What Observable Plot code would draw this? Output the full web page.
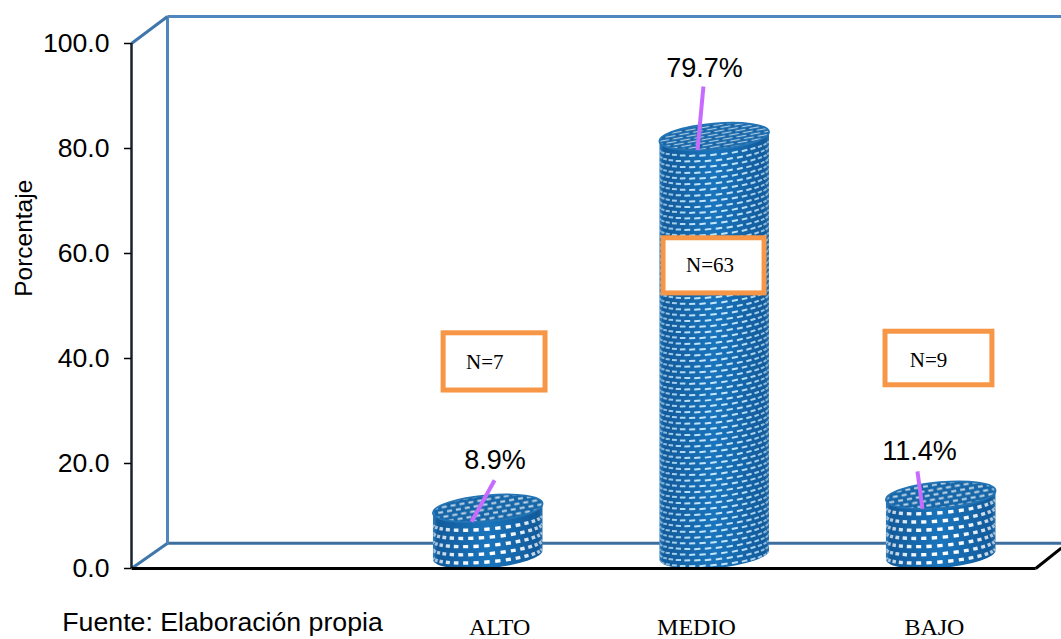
<!DOCTYPE html>
<html lang="es">
<head>
<meta charset="utf-8">
<script src="https://cdn.jsdelivr.net/npm/d3@7"></script>
<script src="https://cdn.jsdelivr.net/npm/@observablehq/plot@0.6"></script>
<style>
  html, body { margin: 0; padding: 0; background: #fff; }
  svg { display: block; }
</style>
</head>
<body>
<div id="chart"></div>
<script>
// Nivel por categoría: porcentaje y número de casos
const categories = ["ALTO", "MEDIO", "BAJO"];
const percentages = [8.9, 79.7, 11.4];
const counts = [7, 63, 9];
const slots = [1, 2, 3];            // the slot 0 of the category axis stays empty
const yTicks = [0, 20, 40, 60, 80, 100];

// Annotation anchors, in scale units
const labelX = [1.03, 1.955, 2.904];
const labelY = [20.6, 95.2, 22.3];
const leaderTopX = [1.028, 1.95, 2.895];
const leaderTopY = [16.8, 91.8, 18.5];
const leaderEndX = [0.926, 1.924, 2.917];
const boxX1 = [0.803, 1.774, 2.754];
const boxX2 = [1.253, 2.22, 3.226];
const boxY1 = [33.9, 52.4, 34.9];
const boxY2 = [44.8, 62.9, 45.1];
const noteX = [0.985, 1.979, 2.944];
const noteY = [39.2, 57.7, 39.6];
const categoryLabelX = [1.05, 1.919, 2.97];

const rows = categories.map((name, i) => ({
  name, slot: slots[i], pct: percentages[i], n: counts[i],
  labelX: labelX[i], labelY: labelY[i],
  topX: leaderTopX[i], topY: leaderTopY[i], endX: leaderEndX[i],
  x1: boxX1[i], x2: boxX2[i], y1: boxY1[i], y2: boxY2[i],
  noteX: noteX[i], noteY: noteY[i], catX: categoryLabelX[i]
}));

// Extent of the box drawn behind the columns
const xMin = -0.575, xMax = 3.531;
const depthX = 0.159, depthY = 4.8;
const backTop = 105.15;
const floorEnd = 3.417;

const sans = "'Liberation Sans', Arial, sans-serif";
const serif = "'Liberation Serif', 'Times New Roman', serif";
const seg = (x1, y1, x2, y2) => ({x1, y1, x2, y2});

// Adds a staggered dash texture for a cylinder lid
function lidPattern(defs, id, w, h, dashW, dashH, color) {
  const p = defs.append("pattern").attr("id", id)
    .attr("patternUnits", "userSpaceOnUse").attr("width", w).attr("height", h)
    .attr("patternTransform", "rotate(-5)");
  p.append("rect").attr("width", w).attr("height", h).attr("fill", "#1766a8");
  [[0.5, h / 4 - dashH / 2], [w / 2 + 0.5, 3 * h / 4 - dashH / 2], [-w / 2 + 0.5, 3 * h / 4 - dashH / 2]]
    .forEach(([x, y]) => p.append("rect").attr("x", x).attr("y", y)
      .attr("width", dashW).attr("height", dashH).attr("fill", color));
}

// Patterned cylinder: the side is wrapped with rows of small dashes that
// foreshorten towards the edges, the lid is a tilted ellipse.
function cylinders(index, scales, values) {
  const g = d3.create("svg:g");
  const defs = g.append("defs");
  const deg = 5, tilt = deg * Math.PI / 180;
  const rx = scales.x(1.2428) - scales.x(1), ry = 13;
  const cosT = Math.cos(tilt), sinT = Math.sin(tilt);

  const side = defs.append("linearGradient").attr("id", "cyl-side");
  [[0, "#2f7dbd"], [0.04, "#125a9a"], [0.5, "#1a75bd"], [0.96, "#125a9a"], [1, "#2a70ab"]]
    .forEach(([o, c]) => side.append("stop").attr("offset", o).attr("stop-color", c));

  lidPattern(defs, "lid-wide", 9, 9.6, 5, 2, "#c3d8e8");
  lidPattern(defs, "lid-fine", 14, 6, 10, 1.2, "#a9cbe4");

  const pt = (cx, cy, phi, k = 1) => {
    const ex = rx * Math.cos(phi), ey = ry * k * Math.sin(phi);
    return [cx + ex * cosT + ey * sinT, cy - ex * sinT + ey * cosT];
  };
  // Direction of a row of dashes at angle phi, in degrees
  const tangent = (phi, k) => {
    const ex = -rx * Math.sin(phi), ey = ry * k * Math.cos(phi);
    const dx = ex * cosT + ey * sinT, dy = -ex * sinT + ey * cosT;
    return Math.atan2(-dy, -dx) * 180 / Math.PI;
  };

  for (const i of index) {
    const cx = values.x[i], front = values.y[i], base = scales.y(0);
    const cyTop = front - ry, cyBase = base - ry;
    const tall = base - front > 200;
    const [rTx, rTy] = pt(cx, cyTop, 0), [lTx, lTy] = pt(cx, cyTop, Math.PI);
    const [rBx, rBy] = pt(cx, cyBase, 0), [lBx, lBy] = pt(cx, cyBase, Math.PI);
    const outline = `M${lTx},${lTy}A${rx},${ry} -${deg} 0 0 ${rTx},${rTy}L${rBx},${rBy}A${rx},${ry} -${deg} 0 1 ${lBx},${lBy}Z`;

    g.append("path").attr("d", outline).attr("fill", "url(#cyl-side)");
    defs.append("clipPath").attr("id", `cyl-clip-${i}`).append("path").attr("d", outline);
    const dashes = g.append("g").attr("clip-path", `url(#cyl-clip-${i})`);

    const rowGap = tall ? 5.7 : 8.2, step = 0.2;
    const dashW = tall ? 6.5 : 5.4, dashH = tall ? 2 : 3.4;
    const bend = tall ? 0.75 : 0.7;
    const lean = tall ? -3 : 0;
    for (let r = 0; ; r++) {
      const cy = cyBase + 6 - r * rowGap;
      if (cy < cyTop + 7) break;
      const shift = r % 2 ? step / 2 : 0;
      for (let phi = step / 2 + shift; phi < Math.PI; phi += step) {
        const [px, py] = pt(cx, cy, phi, bend);
        const sp = Math.sin(phi);
        const w = Math.max(1.2, dashW * (0.25 + 0.75 * sp));
        dashes.append("rect")
          .attr("x", px - w / 2).attr("y", py - dashH / 2)
          .attr("width", w).attr("height", dashH)
          .attr("transform", `rotate(${tangent(phi, bend) + lean} ${px} ${py})`)
          .attr("fill", tall ? "#c4e7fb" : "#ffffff")
          .attr("fill-opacity", 0.45 + 0.55 * sp);
      }
    }

    g.append("ellipse")
      .attr("cx", cx).attr("cy", cyTop).attr("rx", rx).attr("ry", ry)
      .attr("transform", `rotate(-${deg} ${cx} ${cyTop})`)
      .attr("fill", `url(#${tall ? "lid-fine" : "lid-wide"})`)
      .attr("stroke", "#2374b5").attr("stroke-width", 1.8);
  }
  return g.node();
}

const chart = Plot.plot({
  width: 1061,
  height: 639,
  marginLeft: 131,
  marginRight: 0,
  marginTop: 43,
  marginBottom: 71,
  x: {type: "linear", domain: [xMin, xMax], axis: null},
  y: {domain: [0, 100], axis: null},
  style: {fontFamily: sans, background: "#fff", overflow: "visible"},
  marks: [
    // back wall and its floor edge
    Plot.link([seg(xMin + depthX, depthY, xMax, depthY)],
      {x1: "x1", y1: "y1", x2: "x2", y2: "y2", stroke: "#3d6f9e", strokeWidth: 3}),
    Plot.link([seg(xMin + depthX, depthY, xMin + depthX, backTop), seg(xMin + depthX, backTop, xMax, backTop)],
      {x1: "x1", y1: "y1", x2: "x2", y2: "y2", stroke: "#4f86bd", strokeWidth: 3}),
    Plot.link([seg(xMin, 100, xMin + depthX, backTop), seg(xMin, 0, xMin + depthX, depthY)],
      {x1: "x1", y1: "y1", x2: "x2", y2: "y2", stroke: "#3f77ab", strokeWidth: 3}),

    // value axis
    Plot.ruleX([xMin], {y1: 0, y2: 100, stroke: "#18222e", strokeWidth: 2.5}),
    Plot.axisY({
      ticks: yTicks, tickFormat: d => d.toFixed(1), tickSize: 7, tickPadding: 15,
      fontSize: 26.6, label: null, stroke: "#000", strokeWidth: 1.5
    }),

    Plot.dot(rows, {x: "slot", y: "pct", r: 1, render: cylinders}),

    // front floor edge
    Plot.link([seg(xMin, 0, floorEnd, 0), seg(floorEnd, 0, xMax, 3.9)],
      {x1: "x1", y1: "y1", x2: "x2", y2: "y2", stroke: "#000", strokeWidth: 3}),

    // leaders and percentages
    Plot.link(rows, {x1: "endX", y1: "pct", x2: "topX", y2: "topY", stroke: "#c76bff", strokeWidth: 4}),
    Plot.text(rows, {x: "labelX", y: "labelY", text: d => d.pct.toFixed(1) + "%", fontSize: 27, fill: "#000"}),

    // case-count boxes
    Plot.rect(rows, {x1: "x1", x2: "x2", y1: "y1", y2: "y2", fill: "#fff", stroke: "#f79646", strokeWidth: 5}),
    Plot.text(rows, {x: "noteX", y: "noteY", text: d => "N=" + d.n, fontSize: 21, fontFamily: serif, fill: "#000"}),

    // category names, source and axis title
    Plot.text(rows, {x: "catX", y: -11.2, text: "name", fontSize: 24, fontFamily: serif, fill: "#000"}),
    Plot.text(["Fuente: Elaboración propia"], {x: -0.173, y: -10.3, text: d => d, fontSize: 26.7, fill: "#000"}),
    Plot.text(["Porcentaje"], {x: -1.047, y: 62.9, text: d => d, rotate: -90, fontSize: 24.5, fill: "#000"})
  ]
});
document.getElementById("chart").append(chart);
</script>
</body>
</html>
